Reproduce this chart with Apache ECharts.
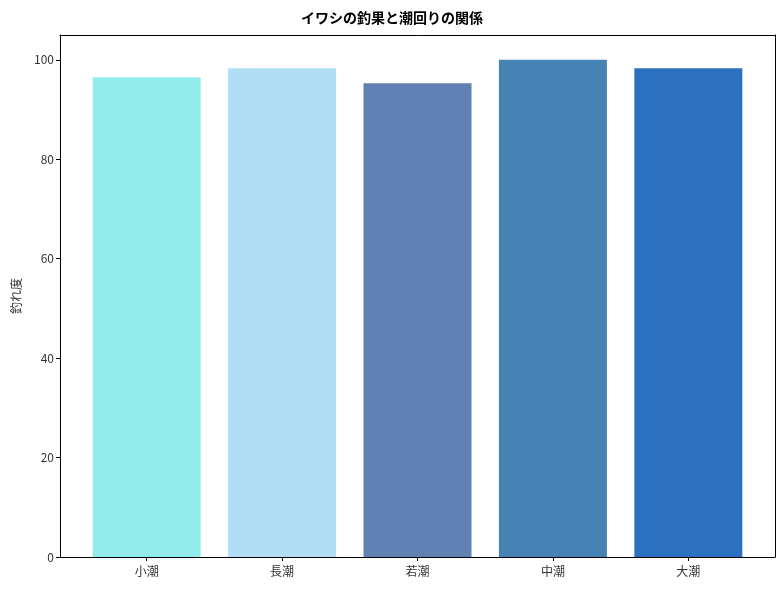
<!DOCTYPE html>
<html>
<head>
<meta charset="utf-8">
<script src="https://cdn.jsdelivr.net/npm/echarts@6/dist/echarts.min.js"></script>
<style>
html,body{margin:0;padding:0;background:#fff;}
#chart{width:784px;height:590px;}
</style>
</head>
<body>
<div id="chart"></div>
<script>
// 潮回りごとの釣れ度
var categories = ['小潮', '長潮', '若潮', '中潮', '大潮'];
var values = [96.5, 98.3, 95.3, 100, 98.3];
var barColors = ['#92ECEC', '#B0DEF5', '#6180B4', '#4682B4', '#2C70C0'];
var yTicks = [0, 20, 40, 60, 80, 100];

var font = '"Noto Sans CJK JP", "Noto Sans", sans-serif';
var chart = echarts.init(document.getElementById('chart'));

// x軸は数値軸にして左右の余白を再現
var catPos = categories.map(function (c, i) { return i; });

var option = {
    backgroundColor: '#fff',
    animation: false,
    title: {
        text: 'イワシの釣果と潮回りの関係',
        left: 'center',
        top: 6,
        textStyle: {fontFamily: font, fontSize: 14, fontWeight: 'bold', color: '#000'}
    },
    grid: {left: 60, right: 9, top: 35, bottom: 33},
    xAxis: [{
        type: 'value',
        min: -0.64,
        max: 4.64,
        axisLine: {onZero: false, lineStyle: {color: '#000', width: 1}},
        axisTick: {length: 4, lineStyle: {color: '#000'}, customValues: catPos},
        axisLabel: {
            fontFamily: font, fontSize: 12, color: '#333', margin: 8,
            customValues: catPos,
            formatter: function (v) { return categories[Math.round(v)]; }
        },
        splitLine: {show: false}
    }, {
        type: 'value',
        position: 'top',
        min: -0.64,
        max: 4.64,
        axisLine: {show: true, onZero: false, lineStyle: {color: '#000', width: 1}},
        axisTick: {show: false},
        axisLabel: {show: false},
        splitLine: {show: false}
    }],
    yAxis: [{
        type: 'value',
        min: 0,
        max: 105,
        name: '釣れ度',
        nameLocation: 'middle',
        nameGap: 38,
        nameTextStyle: {fontFamily: font, fontSize: 12, color: '#333'},
        axisLine: {show: true, onZero: false, lineStyle: {color: '#000', width: 1}},
        axisTick: {show: true, length: 4, lineStyle: {color: '#000'}, customValues: yTicks},
        axisLabel: {
            fontFamily: font, fontSize: 12, color: '#333', margin: 6,
            customValues: yTicks
        },
        splitLine: {show: false}
    }, {
        type: 'value',
        position: 'right',
        min: 0,
        max: 105,
        axisLine: {show: true, onZero: false, lineStyle: {color: '#000', width: 1}},
        axisTick: {show: false},
        axisLabel: {show: false},
        splitLine: {show: false}
    }],
    series: [{
        type: 'bar',
        barWidth: 108,
        data: values.map(function (v, i) {
            return {value: [catPos[i], v], itemStyle: {color: barColors[i]}};
        })
    }]
};

chart.setOption(option);
</script>
</body>
</html>
